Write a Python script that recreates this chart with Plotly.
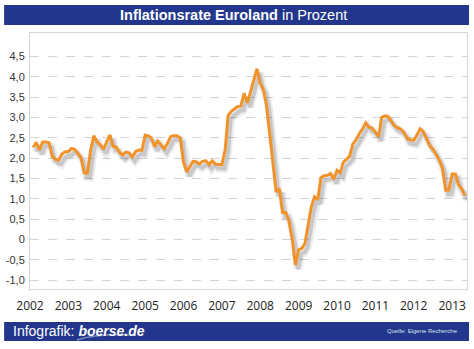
import pandas as pd
import plotly.graph_objects as go

# Monthly inflation rate (%), Feb 2002 .. May 2013
start_month = "2002-02-01"
values = [
    2.26, 2.39, 2.20, 2.40, 2.40, 2.38, 2.05, 1.97, 1.95, 2.10, 2.16, 2.16,
    2.24, 2.22, 2.12, 2.02, 1.64, 1.63, 2.20, 2.55, 2.40, 2.33, 2.22, 2.38,
    2.57, 2.29, 2.27, 2.15, 2.08, 2.15, 2.13, 2.03, 2.16, 2.20, 2.19, 2.57,
    2.55, 2.50, 2.28, 2.42, 2.32, 2.23, 2.36, 2.53, 2.55, 2.55, 2.50, 1.90,
    1.66, 1.80, 1.92, 1.91, 1.86, 1.92, 1.94, 1.84, 1.93, 1.85, 1.84, 1.84,
    2.20, 3.05, 3.15, 3.20, 3.27, 3.28, 3.60, 3.36, 3.65, 3.95, 4.20, 3.84,
    3.68, 3.30, 2.60, 1.90, 1.17, 1.25, 0.66, 0.66, 0.45, 0.00, -0.63, -0.25,
    -0.22, -0.10, 0.35, 0.80, 1.05, 0.98, 1.52, 1.57, 1.58, 1.62, 1.48, 1.70,
    1.64, 1.90, 1.97, 2.05, 2.35, 2.45, 2.60, 2.72, 2.87, 2.76, 2.74, 2.64,
    2.53, 3.00, 3.04, 3.03, 2.90, 2.80, 2.75, 2.71, 2.63, 2.47, 2.45, 2.44,
    2.57, 2.72, 2.65, 2.48, 2.30, 2.23, 2.08, 1.95, 1.74, 1.21, 1.22, 1.61,
    1.61, 1.35, 1.25, 1.08,
]
dates = pd.date_range(start_month, periods=len(values), freq="MS")

year_labels = [str(y) for y in range(2002, 2014)]
year_ticks = [f"{y}-01-01" for y in range(2002, 2014)]
y_ticks = [-1.0, -0.5, 0, 0.5, 1.0, 1.5, 2.0, 2.5, 3.0, 3.5, 4.0, 4.5]
y_labels = ["-1,0", "-0,5", "0", "0,5", "1,0", "1,5", "2,0", "2,5", "3,0", "3,5", "4,0", "4,5"]

title_bold = "Inflationsrate Euroland"
title_rest = " in Prozent"
footer_left = "Infografik: "
footer_brand = "boerse.de"
source_text = "Quelle: Eigene Recherche"

BLUE = "#22378c"
ORANGE = "#f0932b"

W, H = 474, 349
ML, MR, MT, MB = 29, 6, 33, 60
pw, ph = W - ML - MR, H - MT - MB


def px(x):
    return (x - ML) / pw


def py(y):
    return (H - MB - y) / ph


fig = go.Figure()

# soft drop shadow of the line (derived offset of the data)
sh_x = dates + pd.Timedelta(days=25)
sh_y = [v - 0.1 for v in values]
fig.add_trace(go.Scatter(x=sh_x, y=sh_y, mode="lines",
                         line=dict(color="rgba(60,60,70,0.10)", width=8, shape="linear"),
                         hoverinfo="skip", showlegend=False))
fig.add_trace(go.Scatter(x=sh_x, y=sh_y, mode="lines",
                         line=dict(color="rgba(60,60,70,0.20)", width=4),
                         hoverinfo="skip", showlegend=False))
fig.add_trace(go.Scatter(x=dates, y=values, mode="lines",
                         line=dict(color=ORANGE, width=3),
                         showlegend=False, name="Inflationsrate"))

fig.update_layout(
    width=W, height=H,
    margin=dict(l=ML, r=MR, t=MT, b=MB),
    paper_bgcolor="white", plot_bgcolor="white",
    font=dict(family="Liberation Sans, Arial, sans-serif", color="#333"),
    showlegend=False,
)
fig.update_xaxes(
    type="date", range=["2002-01-01", "2013-05-22"],
    tickmode="array", tickvals=year_ticks, ticktext=year_labels,
    tickfont=dict(family="Open Sans, Liberation Sans, sans-serif", size=12, color="#222"),
    showgrid=False, zeroline=False, ticks="",
    showline=True, mirror=True, linecolor="#d6d6d6", linewidth=1,
    ticklabelstandoff=6,
)
fig.update_yaxes(
    range=[-1.22, 5.08],
    tickmode="array", tickvals=y_ticks, ticktext=y_labels,
    tickfont=dict(family="Liberation Sans, Arial, sans-serif", size=11, color="#333"),
    showgrid=True, gridcolor="#d4d4d4", gridwidth=1, griddash="dash",
    zeroline=False, ticks="",
    showline=True, mirror=True, linecolor="#d6d6d6", linewidth=1,
    ticklabelstandoff=2,
)

# title bar and footer bar
fig.add_shape(type="rect", xref="paper", yref="paper",
              x0=px(3), x1=px(470), y0=py(25), y1=py(5),
              fillcolor=BLUE, line=dict(width=0), layer="above")
fig.add_shape(type="rect", xref="paper", yref="paper",
              x0=px(3), x1=px(470), y0=py(341), y1=py(322),
              fillcolor=BLUE, line=dict(width=0), layer="above")
# swoosh under brand
fig.add_shape(type="path", xref="paper", yref="paper",
              path=f"M {px(76)},{py(340)} Q {px(95)},{py(334)} {px(128)},{py(335)}",
              line=dict(color="rgba(200,210,240,0.55)", width=1.5), layer="above")

fig.add_annotation(xref="paper", yref="paper", x=px(233), y=py(15),
                   text=f"<b>{title_bold}</b>{title_rest}", showarrow=False,
                   xanchor="center", yanchor="middle",
                   font=dict(family="Liberation Sans, Arial, sans-serif", size=14.5, color="white"))
fig.add_annotation(xref="paper", yref="paper", x=px(10), y=py(331),
                   text=f"{footer_left}<b><i>{footer_brand}</i></b>", showarrow=False,
                   xanchor="left", yanchor="middle",
                   font=dict(family="Liberation Sans, Arial, sans-serif", size=14, color="white"))
fig.add_annotation(xref="paper", yref="paper", x=px(461), y=py(331),
                   text=source_text, showarrow=False,
                   xanchor="right", yanchor="middle",
                   font=dict(family="Liberation Sans, Arial, sans-serif", size=6, color="#dde2f0"))

fig.write_html("out.html")
